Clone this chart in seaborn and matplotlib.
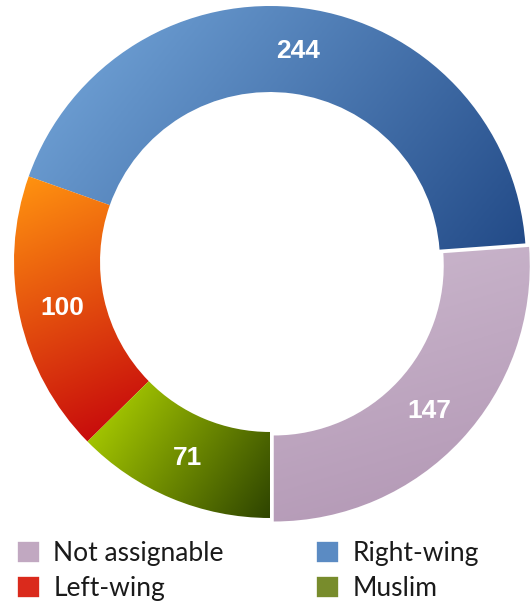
import numpy as np
import seaborn as sns
import matplotlib.pyplot as plt
from matplotlib.colors import LinearSegmentedColormap

# data, in drawing order (counter-clockwise from 6 o'clock)
categories = ['Not assignable', 'Right-wing', 'Left-wing', 'Muslim']
counts = [147, 244, 100, 71]
legend_colors = ['#c1a8c1', '#5b8bc3', '#da2a1c', '#788c2c']
# gradient ends (light, dark) and direction for each slice
grad_from = ['#cab6cc', '#6a9bd0', '#ff9210', '#a2c400']
grad_to = ['#b69cb8', '#234b88', '#c80c0c', '#2e4400']
grad_dir = [(0.3, -1.0), (1.0, -0.8), (0.45, -1.0), (1.0, -0.7)]

sns.set_theme(style='white')
plt.rcParams['font.family'] = ['Lato', 'DejaVu Sans']

fig = plt.figure(figsize=(5.32, 6.03), dpi=100)
L = 1.06
R_px = 256
w = 2 * L * R_px
ax = fig.add_axes([(270 - w / 2) / 532, (341 - w / 2) / 603, w / 532, w / 603])

wedges, _ = ax.pie(counts, colors=sns.color_palette(legend_colors), startangle=-90,
                   counterclock=True, explode=[0.02, 0, 0, 0],
                   wedgeprops=dict(width=0.336, edgecolor='white', linewidth=1.2))

# gradient fill clipped to each wedge
xs = np.linspace(-L, L, 400)
X, Y = np.meshgrid(xs, xs[::-1])
for wdg, c0, c1, d in zip(wedges, grad_from, grad_to, grad_dir):
    d = np.array(d) / np.hypot(*d)
    verts = wdg.get_path().vertices
    proj_v = verts @ d
    P = (X * d[0] + Y * d[1] - proj_v.min()) / (proj_v.max() - proj_v.min())
    cmap = LinearSegmentedColormap.from_list('g', [c0, c1])
    im = ax.imshow(np.clip(P, 0, 1), cmap=cmap, extent=(-L, L, -L, L), vmin=0, vmax=1,
                   interpolation='bilinear', zorder=wdg.get_zorder() + 0.1)
    im.set_clip_path(wdg)

# value labels at the middle of the ring
total = sum(counts)
start = -90.0
for i, (v, wdg) in enumerate(zip(counts, wedges)):
    mid = np.deg2rad(start + 360 * v / total / 2)
    start += 360 * v / total
    r = 0.832
    cx, cy = wdg.center
    ax.text(cx + r * np.cos(mid), cy + r * np.sin(mid), str(v), ha='center', va='center',
            color='white', fontsize=19, fontweight='bold', family='Liberation Sans', zorder=10)

ax.set_xlim(-L, L)
ax.set_ylim(-L, L)
ax.set_aspect('equal')
ax.axis('off')

order = [0, 2, 1, 3]
fig.legend([wedges[i] for i in order], [categories[i] for i in order], ncol=2,
           loc='upper left', bbox_to_anchor=(4 / 532, 1 - 528 / 603), frameon=False,
           fontsize=19, handlelength=0.87, handleheight=0.87, handletextpad=0.5,
           columnspacing=3.5, labelspacing=0.38, borderpad=0, labelcolor='#1a1a1a')

fig.savefig('out.png', dpi=100, facecolor='white')
